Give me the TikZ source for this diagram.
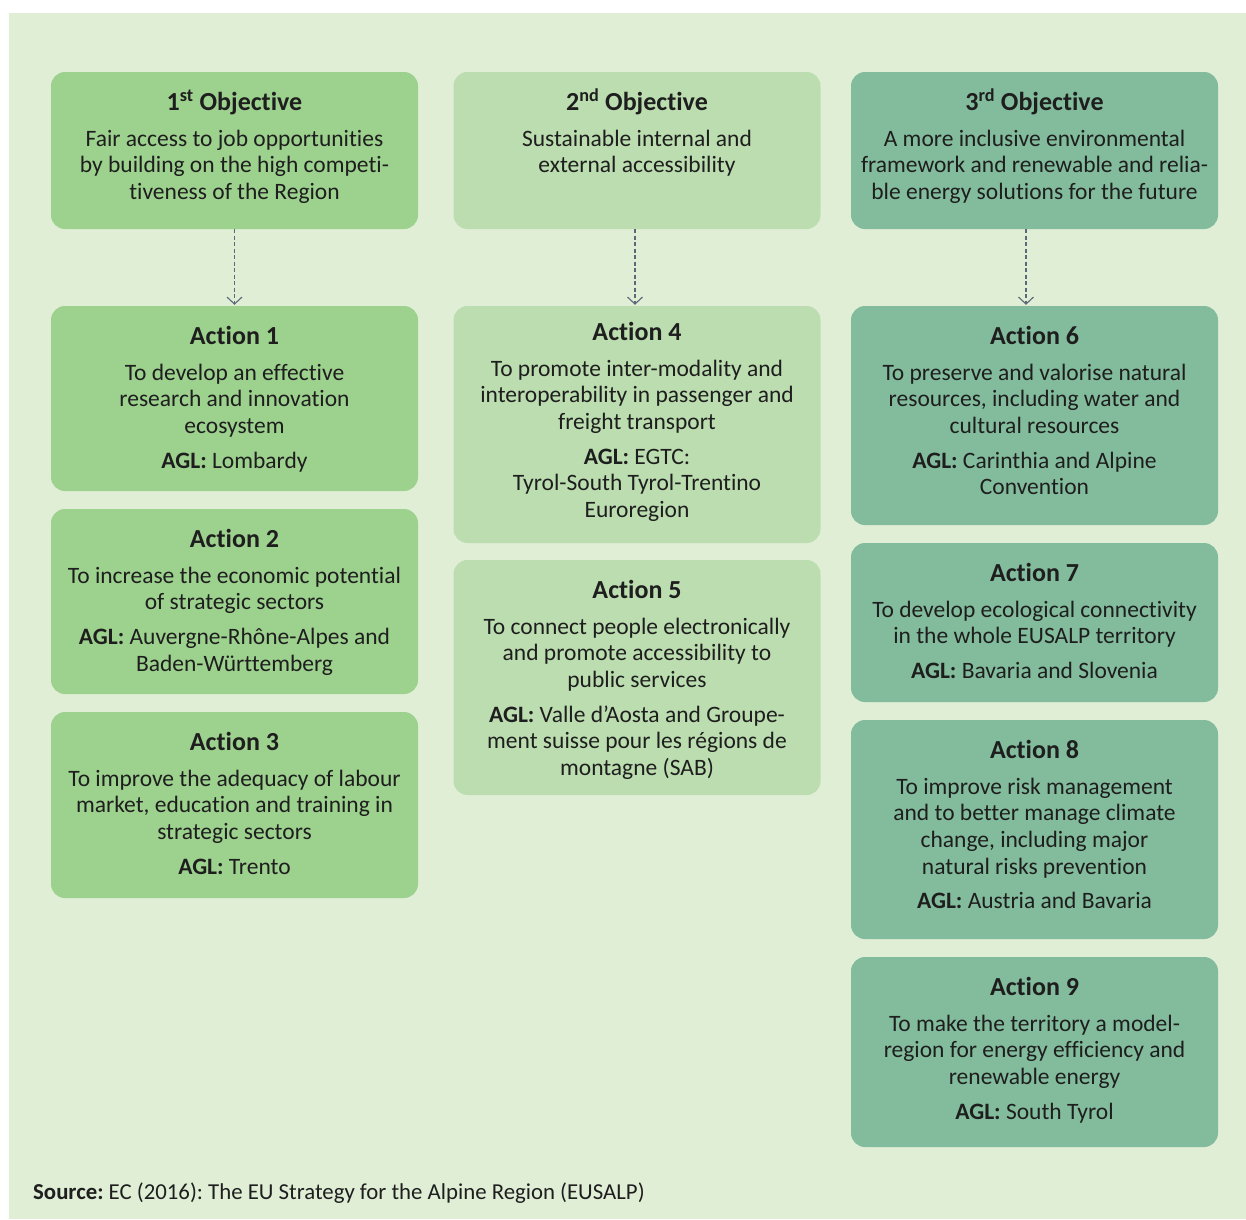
\documentclass[tikz,border=0pt]{standalone}
\usepackage{fontspec}
\setmainfont{Carlito}[Ligatures=NoCommon]
\newfontfamily\srcfont{Carlito}[Ligatures=NoCommon]
\usetikzlibrary{calc,arrows.meta}
\frenchspacing
\definecolor{bgc}{HTML}{E0EED6}
\definecolor{cone}{HTML}{9DD18E}
\definecolor{ctwo}{HTML}{BBDDAF}
\definecolor{cthree}{HTML}{82BC9C}
\definecolor{arrc}{HTML}{5A6978}
\definecolor{txt}{HTML}{1E1E1E}
\tikzset{
  box/.style={rectangle, rounded corners=14pt, minimum width=367pt, inner sep=0pt, draw=none},
  ttl/.style={font=\bfseries\fontsize{26}{30}\selectfont, text=txt, inner sep=0pt},
  bdy/.style={font=\fontsize{23.5}{26.7}\selectfont, text=txt, inner sep=0pt, align=center, execute at begin node=\strut},
  link/.style={draw=arrc, line width=1.1pt, dash pattern=on 4pt off 2.5pt, -{Straight Barb[length=7pt,width=15pt,line width=1.1pt]}}
}
% name, cx, top, bottom, fill, title offset, title, body
\newcommand\mybox[8]{%
  \node[box, fill=#5, minimum height={#4-#3}] (#1) at (#2,{(#3+#4)/2}) {};
  \node[ttl, anchor=base] (#1t) at ($(#1.north)+(0,#6)$) {#7};
  \node[bdy, anchor=north] (#1b) at ($(#1t.base)+(0,18.8)$) {#8};
}
\begin{document}
\begin{tikzpicture}[x=1pt,y=-1pt]
\useasboundingbox (0,0) rectangle (1246,1219);
\fill[white] (0,0) rectangle (1246,1219);
\fill[bgc] (9,13) rectangle (1246,1219);

\mybox{o1}{234.5}{72}{229}{cone}{39}{1\textsuperscript{st} Objective}{Fair access to job opportunities\\by building on the high competi-\\tiveness of the Region}
\mybox{o2}{637}{72}{229}{ctwo}{39}{2\textsuperscript{nd} Objective}{Sustainable internal and\\external accessibility}
\mybox{o3}{1034.5}{72}{229}{cthree}{39}{3\textsuperscript{rd} Objective}{A more inclusive environmental\\framework and renewable and relia-\\ble energy solutions for the future}

\mybox{a1}{234.5}{306}{491}{cone}{39}{Action 1}{To develop an effective\\research and innovation\\ecosystem\\[7.8pt]\textbf{AGL:} Lombardy}
\mybox{a2}{234.5}{509}{694}{cone}{39}{Action 2}{To increase the economic potential\\of strategic sectors\\[7.8pt]\textbf{AGL:} Auvergne-Rhône-Alpes and\\Baden-Württemberg}
\mybox{a3}{234.5}{712}{898}{cone}{39}{Action 3}{To improve the adequacy of labour\\market, education and training in\\strategic sectors\\[7.8pt]\textbf{AGL:} Trento}

\mybox{a4}{637}{306}{543}{ctwo}{35}{Action 4}{To promote inter-modality and\\interoperability in passenger and\\freight transport\\[7.8pt]\textbf{AGL:} EGTC:\\Tyrol-South Tyrol-Trentino\\Euroregion}
\mybox{a5}{637}{560}{795}{ctwo}{39}{Action 5}{To connect people electronically\\and promote accessibility to\\public services\\[7.8pt]\textbf{AGL:} Valle d'Aosta and Groupe-\\ment suisse pour les régions de\\montagne (SAB)}

\mybox{a6}{1034.5}{306}{525}{cthree}{39}{Action 6}{To preserve and valorise natural\\resources, including water and\\cultural resources\\[7.8pt]\textbf{AGL:} Carinthia and Alpine\\Convention}
\mybox{a7}{1034.5}{543}{702}{cthree}{39}{Action 7}{To develop ecological connectivity\\in the whole EUSALP territory\\[7.8pt]\textbf{AGL:} Bavaria and Slovenia}
\mybox{a8}{1034.5}{720}{939}{cthree}{39}{Action 8}{To improve risk management\\and to better manage climate\\change, including major\\natural risks prevention\\[7.8pt]\textbf{AGL:} Austria and Bavaria}
\mybox{a9}{1034.5}{957}{1147}{cthree}{39}{Action 9}{To make the territory a model-\\region for energy efficiency and\\renewable energy\\[7.8pt]\textbf{AGL:} South Tyrol}

\draw[link] (o1.south) -- ($(a1.north)+(0,-1)$);
\draw[link] ($(o2.south)+(-2,0)$) -- ($(a4.north)+(-2,-1)$);
\draw[link] ($(o3.south)+(-8.5,0)$) -- ($(a6.north)+(-8.5,-1)$);

\node[anchor=base west, inner sep=0pt, text=txt, font=\srcfont\fontsize{22.8}{26}\selectfont] (src) at (33,1199) {\textbf{Source:} EC (2016): The EU Strategy for the Alpine Region (EUSALP)};
\end{tikzpicture}
\end{document}
